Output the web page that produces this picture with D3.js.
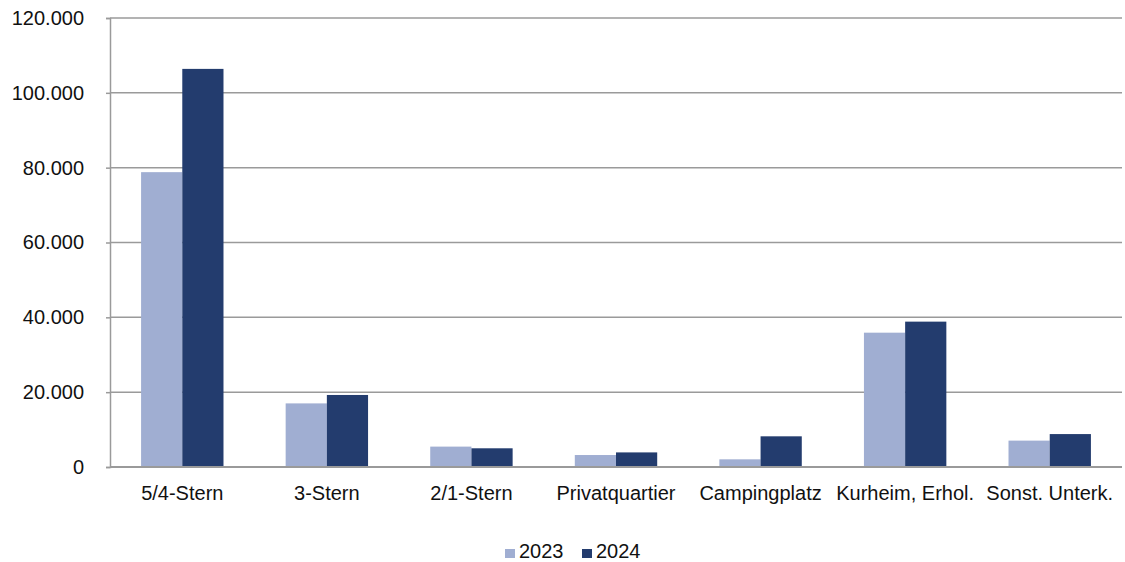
<!DOCTYPE html>
<html lang="de">
<head>
<meta charset="UTF-8">
<title>Übernachtungen nach Unterkunftsart</title>
<script src="https://d3js.org/d3.v7.min.js"></script>
<style>
    html, body { margin: 0; background: #fff; }
    body { font-family: "Liberation Sans", Arial, sans-serif; }
</style>
</head>
<body>
<div id="vis"></div>
<script>
    // data
    var categories = ["5/4-Stern", "3-Stern", "2/1-Stern", "Privatquartier", "Campingplatz", "Kurheim, Erhol.", "Sonst. Unterk."];
    var series = ["2023", "2024"];
    var values2023 = [78800, 17000, 5450, 3200, 2050, 35900, 7050];
    var values2024 = [106400, 19250, 5000, 3900, 8200, 38850, 8800];
    var yTicks = [0, 20000, 40000, 60000, 80000, 100000, 120000];

    var colours = {"2023": "#a0aed2", "2024": "#233c6e"};
    var fontSize = 20;

    var W = 1125, H = 562;
    var margin = {top: 18, right: 3, bottom: 95, left: 110};
    var width = W - margin.left - margin.right;
    var height = H - margin.top - margin.bottom;

    var rows = categories.map(function(c, i) {
        return {cat: c, "2023": values2023[i], "2024": values2024[i]};
    });

    var svg = d3.select("#vis").append("svg")
        .attr("width", W).attr("height", H);
    var g = svg.append("g")
        .attr("transform", "translate(" + margin.left + "," + margin.top + ")");

    var x0 = d3.scaleBand().domain(categories).range([0, width]).padding(0);
    var step = x0.bandwidth();
    var x1 = d3.scaleBand().domain(series).range([step * 0.215, step * 0.785]).padding(0);
    var y = d3.scaleLinear().domain([0, 120000]).range([height, 0]);

    // gridlines
    g.selectAll(".grid").data(yTicks).enter().append("line")
        .attr("class", "grid")
        .attr("x1", 0).attr("x2", width)
        .attr("y1", function(d) { return y(d); })
        .attr("y2", function(d) { return y(d); })
        .attr("stroke", "#9a9a9a").attr("stroke-width", 1.5);

    // bars
    var groups = g.selectAll(".grp").data(rows).enter().append("g")
        .attr("class", "grp")
        .attr("transform", function(d) { return "translate(" + x0(d.cat) + ",0)"; });
    groups.selectAll("rect").data(function(d) {
        return series.map(function(s) { return {s: s, v: d[s]}; });
    }).enter().append("rect")
        .attr("x", function(d) { return x1(d.s); })
        .attr("width", x1.bandwidth())
        .attr("y", function(d) { return y(d.v); })
        .attr("height", function(d) { return height - y(d.v); })
        .attr("fill", function(d) { return colours[d.s]; });

    // y axis
    var yAxis = d3.axisLeft(y).tickValues(yTicks).tickSize(4).tickPadding(22)
        .tickFormat(function(d) { return d === 0 ? "0" : d3.format(",")(d).replace(/,/g, "."); });
    var ya = g.append("g").call(yAxis);
    ya.select(".domain").attr("stroke", "#9a9a9a").attr("stroke-width", 1.5);
    ya.selectAll(".tick line").attr("stroke", "#9a9a9a").attr("stroke-width", 1.5);
    ya.selectAll("text").attr("font-size", fontSize).attr("fill", "#111")
        .attr("font-family", "Liberation Sans, Arial, sans-serif");

    // baseline
    g.append("line").attr("x1", 0).attr("x2", width)
        .attr("y1", height).attr("y2", height)
        .attr("stroke", "#9a9a9a").attr("stroke-width", 2);

    // x axis labels
    var xAxis = d3.axisBottom(x0).tickSize(0).tickPadding(19);
    var xa = g.append("g").attr("transform", "translate(0," + height + ")").call(xAxis);
    xa.select(".domain").remove();
    xa.selectAll("text").attr("font-size", fontSize).attr("fill", "#111")
        .attr("font-family", "Liberation Sans, Arial, sans-serif");

    // legend
    var legend = svg.append("g").attr("transform", "translate(505,558)");
    var items = legend.selectAll(".item").data(series).enter().append("g")
        .attr("transform", function(d, i) { return "translate(" + (i * 77) + ",0)"; });
    items.append("rect").attr("x", 0).attr("y", -9).attr("width", 10).attr("height", 9)
        .attr("fill", function(d) { return colours[d]; });
    items.append("text").attr("x", 14).attr("y", 0)
        .attr("font-size", fontSize).attr("fill", "#111")
        .text(function(d) { return d; });
</script>
</body>
</html>
